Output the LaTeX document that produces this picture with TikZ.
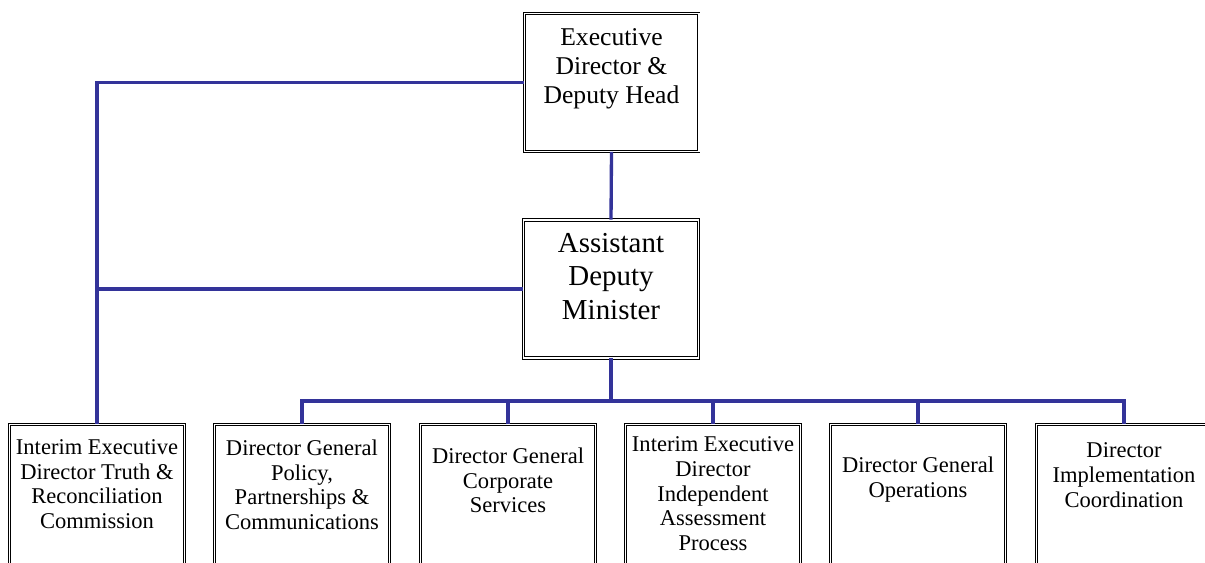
\documentclass[tikz,border=0pt]{standalone}
\usepackage{fontspec}
\setmainfont{Liberation Serif}
\usetikzlibrary{positioning}
\definecolor{orgline}{RGB}{51,51,153}

\begin{document}
\begin{tikzpicture}[x=0.75pt, y=-0.75pt]
	 \tikzstyle{post}=[rectangle, draw=black, double, double distance=1pt, line width=0.7pt, inner sep=0pt]
	 \tikzstyle{headpost}=[post, minimum width=131pt, minimum height=103.5pt]
	 \tikzstyle{unit}=[post, minimum width=131pt, minimum height=135pt]
	 \tikzstyle{title}=[inner sep=0pt, align=center]
	 \tikzstyle{link} = [draw, line width=2.5pt, orgline]
	 \clip (0,0) rectangle (1205,563);
	 % boxes
	 \node[headpost] (exec) at (611.5,82.5) {};
	 \node[headpost] (adm) at (611,289) {};
	 \node[unit] (trc) at (97,514.6) {};
	 \node[unit] (ppc) at (302,514.6) {};
	 \node[unit] (corp) at (508,514.6) {};
	 \node[unit] (iap) at (713,514.6) {};
	 \node[unit] (ops) at (918,514.6) {};
	 \node[unit] (impl) at (1124,514.6) {};
	 % texts
	 \node[title, font=\fontsize{19.2}{21.75}\selectfont, below=11.5pt of exec.north] (exectxt) {Executive\\Director \&\\Deputy Head};
	 \node[title, font=\fontsize{21.7}{25.1}\selectfont, below=10pt of adm.north] (admtxt) {Assistant\\Deputy\\Minister};
	 \node[title, font=\fontsize{16.9}{18.5}\selectfont, below=11.5pt of trc.north] (trctxt) {Interim Executive\\Director Truth \&\\Reconciliation\\Commission};
	 \node[title, font=\fontsize{16.9}{18.5}\selectfont, below=11.5pt of ppc.north] (ppctxt) {Director General\\Policy,\\Partnerships \&\\Communications};
	 \node[title, font=\fontsize{16.9}{18.5}\selectfont, below=17.6pt of corp.north] (corptxt) {Director General\\Corporate\\Services};
	 \node[title, font=\fontsize{16.9}{18.5}\selectfont, below=9.4pt of iap.north] (iaptxt) {Interim Executive\\Director\\Independent\\Assessment\\Process};
	 \node[title, font=\fontsize{16.9}{18.5}\selectfont, below=24.4pt of ops.north] (opstxt) {Director General\\Operations};
	 \node[title, font=\fontsize{16.9}{18.5}\selectfont, below=13.9pt of impl.north] (impltxt) {Director\\Implementation\\Coordination};
	 % connectors
	 \coordinate (bus) at (611,401);
	 \draw[link] (exec.west) -| (trc.north);
	 \draw[link] (adm.west) -- (adm.west -| trc.north);
	 \draw[link] (exec.south) -- (adm.north);
	 \draw[link] (adm.south) -- (bus);
	 \draw[link] (ppc.north) |- (bus -| impl.north) -- (impl.north);
	 \draw[link] (corp.north) -- (corp.north |- bus);
	 \draw[link] (iap.north) -- (iap.north |- bus);
	 \draw[link] (ops.north) -- (ops.north |- bus);
 \end{tikzpicture}
\end{document}
